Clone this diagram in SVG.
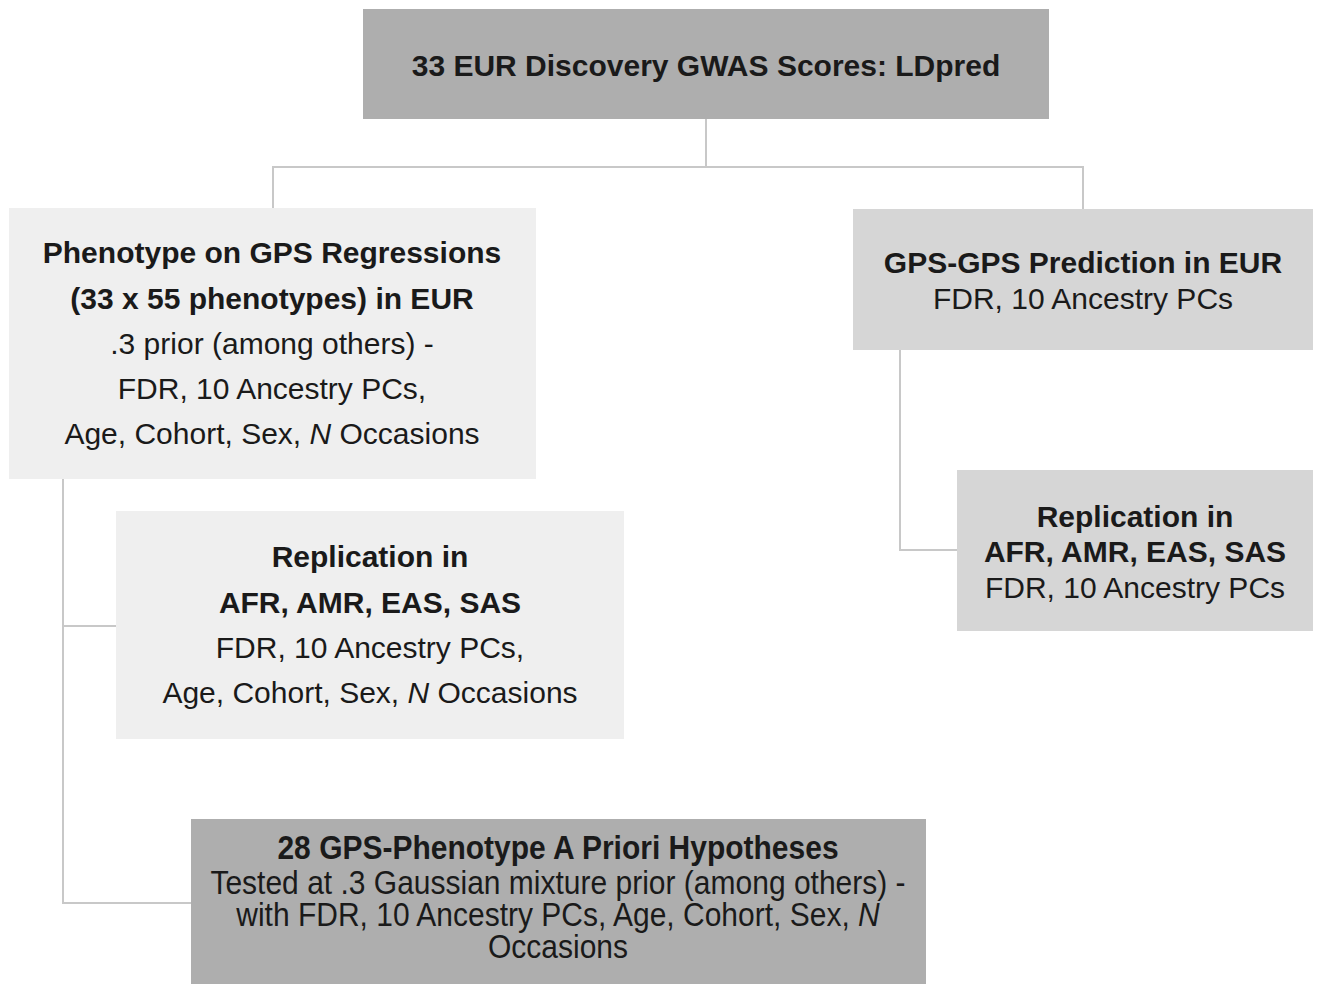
<svg xmlns="http://www.w3.org/2000/svg" width="1318" height="984" viewBox="0 0 1318 984">
<style>
text{font-family:"Liberation Sans",Arial,sans-serif;font-size:30px;fill:#1a1a1a;text-anchor:middle}
.b{font-weight:bold}
.i{font-style:italic}
.dark{fill:#aeaeae}
.mid{fill:#d6d6d6}
.light{fill:#efefef}
.conn{fill:none;stroke:#c8c8c8;stroke-width:2}
</style>
<rect width="1318" height="984" fill="#ffffff"/>
<g id="connectors">
<polyline class="conn" points="706,119 706,167"/>
<polyline class="conn" points="273,208 273,167 1083,167 1083,209"/>
<polyline class="conn" points="63,479 63,903 191,903"/>
<polyline class="conn" points="63,626 116,626"/>
<polyline class="conn" points="900,350 900,550 957,550"/>
</g>
<g id="node-top">
<rect class="dark" x="363" y="9" width="686" height="110"/>
<text class="b" x="706" y="76">33 EUR Discovery GWAS Scores: LDpred</text>
</g>
<g id="node-phenotype">
<rect class="light" x="9" y="208" width="527" height="271"/>
<text class="b" x="272" y="263">Phenotype on GPS Regressions</text>
<text class="b" x="272" y="309">(33 x 55 phenotypes) in EUR</text>
<text x="272" y="354">.3 prior (among others) -</text>
<text x="272" y="399">FDR, 10 Ancestry PCs,</text>
<text x="272" y="444">Age, Cohort, Sex, <tspan class="i">N</tspan> Occasions</text>
</g>
<g id="node-gpsgps">
<rect class="mid" x="853" y="209" width="460" height="141"/>
<text class="b" x="1083" y="273">GPS-GPS Prediction in EUR</text>
<text x="1083" y="309">FDR, 10 Ancestry PCs</text>
</g>
<g id="node-rep-right">
<rect class="mid" x="957" y="470" width="356" height="161"/>
<text class="b" x="1135" y="527">Replication in</text>
<text class="b" x="1135" y="562">AFR, AMR, EAS, SAS</text>
<text x="1135" y="598">FDR, 10 Ancestry PCs</text>
</g>
<g id="node-rep-left">
<rect class="light" x="116" y="511" width="508" height="228"/>
<text class="b" x="370" y="567">Replication in</text>
<text class="b" x="370" y="613">AFR, AMR, EAS, SAS</text>
<text x="370" y="658">FDR, 10 Ancestry PCs,</text>
<text x="370" y="703">Age, Cohort, Sex, <tspan class="i">N</tspan> Occasions</text>
</g>
<g id="node-hypotheses">
<rect class="dark" x="191" y="819" width="735" height="170"/>
<text class="b" transform="translate(558,859) scale(1,1.12)">28 GPS-Phenotype A Priori Hypotheses</text>
<text transform="translate(558,894) scale(1,1.12)">Tested at .3 Gaussian mixture prior (among others) -</text>
<text transform="translate(558,926) scale(1,1.12)">with FDR, 10 Ancestry PCs, Age, Cohort, Sex, <tspan class="i">N</tspan></text>
<text transform="translate(558,958) scale(1,1.12)">Occasions</text>
</g>
</svg>
